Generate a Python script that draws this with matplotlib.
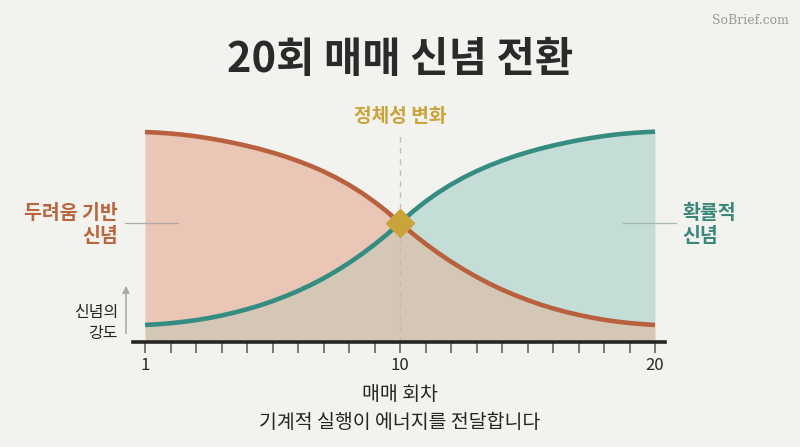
import matplotlib
matplotlib.use("Agg")
import matplotlib.pyplot as plt
import numpy as np

plt.rcParams['font.family'] = ['Noto Sans CJK KR', 'DejaVu Sans']

# ---- data ----
tick_trades = list(range(0, 21))                 # 21 tick positions (trade 1 .. 20)
curve_x = list(np.arange(0, 20.5, 0.5))           # sample positions along the trade axis
fear_belief = [100.0, 99.71, 99.28, 98.70, 97.93, 97.01, 95.95, 94.74, 93.39, 91.90,
               90.21, 88.33, 86.21, 83.85, 81.20, 78.21, 74.84, 71.03, 66.74, 62.00,
               56.67, 51.56, 46.79, 42.35, 38.25, 34.49, 31.02, 27.84, 24.95, 22.35,
               19.99, 17.87, 15.99, 14.35, 12.90, 11.65, 10.59, 9.72, 9.04, 8.51, 8.10]
prob_belief = [8.10, 8.45, 8.95, 9.60, 10.40, 11.40, 12.60, 14.00, 15.60, 17.40,
               19.45, 21.75, 24.30, 27.15, 30.30, 33.80, 37.65, 41.85, 46.40, 51.35,
               56.67, 62.07, 66.89, 71.18, 74.99, 78.36, 81.35, 84.00, 86.36, 88.48,
               90.36, 92.05, 93.54, 94.89, 96.10, 97.16, 98.08, 98.85, 99.43, 99.86, 100.15]
tick_pos = [0, 10, 20]
tick_labels = ["1", "10", "20"]
cross_x = 10
cross_y = 56.67

title = "20회 매매 신념 전환"
shift_label = "정체성 변화"
fear_label = "두려움 기반\n신념"
prob_label = "확률적\n신념"
y_label = "신념의\n강도"
x_label = "매매 회차"
subtitle = "기계적 실행이 에너지를 전달합니다"

# ---- style ----
BG = "#f2f2ee"
RED = "#b9603f"
TEAL = "#358c80"
RED_FILL = "#e9c6b5"
TEAL_FILL = "#c4ded7"
OVER_FILL = "#d5c7b6"
GOLD = "#c9a43a"
DARK = "#252525"

W, H = 800, 447
fig = plt.figure(figsize=(8, 4.47), dpi=100, facecolor=BG)

def fx(px):
    return px / W

def fy(py):
    return 1 - py / H

ax_left, ax_right, ax_top, ax_bottom = 133, 665, 120, 342
ax = fig.add_axes([fx(ax_left), fy(ax_bottom), fx(ax_right - ax_left), (ax_bottom - ax_top) / H])
ax.set_facecolor(BG)
ppu = 25.5
ax.set_xlim(-(145 - ax_left) / ppu, 20 + (ax_right - 655) / ppu)
ax.set_ylim(0, (ax_bottom - ax_top) / 2.1)

x = np.array(curve_x, dtype=float)
r = np.array(fear_belief)
t = np.array(prob_belief)

ax.fill_between(x, 0, np.minimum(r, t), color=OVER_FILL, lw=0)
ax.fill_between(x, t, r, where=r >= t, interpolate=True, color=RED_FILL, lw=0)
ax.fill_between(x, r, t, where=t >= r, interpolate=True, color=TEAL_FILL, lw=0)

ax.plot([cross_x, cross_x], [0, 99], color="#bdbdbd", lw=1, ls=(0, (4, 4)), zorder=2)

ax.plot(x, r, color=RED, lw=3.3, solid_capstyle='butt', solid_joinstyle='round', zorder=3)
ax.plot(x, t, color=TEAL, lw=3.3, solid_capstyle='butt', solid_joinstyle='round', zorder=3)
ax.plot([cross_x], [cross_y], marker='D', ms=14, color=GOLD, mec=GOLD, zorder=4)

for s in ['top', 'right', 'left']:
    ax.spines[s].set_visible(False)
ax.spines['bottom'].set_color(DARK)
ax.spines['bottom'].set_linewidth(2.6)
ax.set_yticks([])
ax.set_xticks(tick_trades)
ax.set_xticklabels([""] * len(tick_trades))
ax.tick_params(axis='x', length=8, width=1.3, color="#6e6e6e", pad=2)
for p, lab in zip(tick_pos, tick_labels):
    fig.text(fx(145 + p * ppu), fy(366), lab, ha='center', va='center', fontsize=12, color=DARK)

# texts
fig.text(0.5, fy(60), title, ha='center', va='center', fontsize=30, fontweight='bold', color="#2a2a2a")
fig.text(0.5, fy(117), shift_label, ha='center', va='center', fontsize=13.8, fontweight='bold', color=GOLD)
fig.text(fx(118), fy(225), fear_label, ha='right', va='center', fontsize=14, fontweight='bold',
         color="#b9653f", linespacing=1.25)
fig.text(fx(682), fy(225), prob_label, ha='left', va='center', fontsize=14, fontweight='bold',
         color="#3a877b", linespacing=1.25)
fig.text(fx(118), fy(323), y_label, ha='right', va='center', fontsize=11.5, color=DARK, linespacing=1.25)
fig.text(0.5, fy(394), x_label, ha='center', va='center', fontsize=14, color=DARK)
fig.text(0.5, fy(423), subtitle, ha='center', va='center', fontsize=14, color=DARK)
fig.text(fx(750), fy(20), "SoBrief.com", ha='center', va='center', fontsize=9,
         family='DejaVu Serif', color="#9a9a9a")

# connector lines
fig.add_artist(plt.Line2D([fx(125), fx(178)], [fy(223), fy(223)], color="#b0aaa5", lw=0.9))
fig.add_artist(plt.Line2D([fx(623), fx(676)], [fy(223), fy(223)], color="#a9b5b1", lw=0.9))

# arrow for intensity
fig.add_artist(matplotlib.patches.FancyArrowPatch((fx(126), fy(336)), (fx(126), fy(283)),
               transform=fig.transFigure, arrowstyle='-|>', mutation_scale=10,
               color="#aaaaaa", lw=1.2))

fig.savefig("out.png", dpi=100, facecolor=BG)
